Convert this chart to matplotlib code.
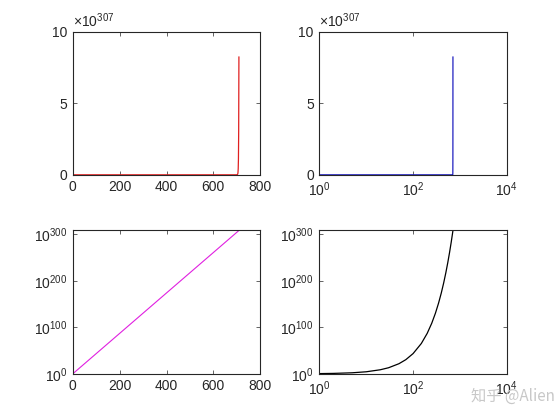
import matplotlib
matplotlib.use("Agg")
import matplotlib.pyplot as plt
from matplotlib.ticker import FuncFormatter, FixedLocator, NullLocator

plt.rcParams['font.family'] = ['Liberation Sans', 'DejaVu Sans']
plt.rcParams['mathtext.fontset'] = 'custom'
plt.rcParams['mathtext.rm'] = 'Liberation Sans'
plt.rcParams['mathtext.it'] = 'Liberation Sans'
plt.rcParams['font.size'] = 10

# sample points (y = e^x)
x = [0, 1, 2, 5, 10, 20, 30, 50, 70, 100, 150, 200, 250, 300, 350, 400, 450,
     500, 550, 600, 650, 690, 700, 702, 704, 705, 706, 707, 708, 709]
y = [1.0, 2.718, 7.389, 148.4, 2.203e4, 4.852e8, 1.069e13, 5.185e21, 2.515e30,
     2.688e43, 1.393e65, 7.226e86, 3.747e108, 1.942e130, 1.007e152, 5.221e173,
     2.707e195, 1.403e217, 7.275e238, 3.773e260, 1.956e282, 4.605e299,
     1.014e304, 7.494e304, 5.537e305, 1.505e306, 4.091e306, 1.112e307,
     3.023e307, 8.218e307]

lin_ticks = [0, 200, 400, 600, 800]
log_x_ticks = [1e0, 1e2, 1e4]
lin_y_ticks = [0, 5e307, 1e308]
log_y_ticks = [1e0, 1e100, 1e200, 1e300]
y_exp = 307

fig = plt.figure(figsize=(5.6, 4.2), dpi=100)
fig.patch.set_facecolor('white')

left = [0.13, 0.5703]
bottom = [0.5838, 0.11]
w, h = 0.3347, 0.3412

axes = []
for r in range(2):
    for c in range(2):
        ax = fig.add_axes([left[c], bottom[r], w, h])
        ax.tick_params(direction='in', length=3, width=0.5, top=True, right=True,
                       labelsize=10, colors='#262626', pad=4)
        for s in ax.spines.values():
            s.set_linewidth(0.8)
            s.set_color('#262626')
        axes.append(ax)

ax1, ax2, ax3, ax4 = axes

# top-left: linear
ax1.plot(x, y, color='#e02020', lw=0.9)
ax1.set_xlim(0, 800)
ax1.set_ylim(0, 1e308)

# top-right: semilogx
ax2.semilogx(x[1:], y[1:], color='#2020c0', lw=0.9)
ax2.set_xlim(1, 1e4)
ax2.set_ylim(0, 1e308)

# bottom-left: semilogy (tight to data)
ax3.semilogy(x, y, color='#e020e0', lw=0.8)
ax3.set_xlim(0, 800)
ax3.set_ylim(1, max(y))

# bottom-right: loglog
ax4.loglog(x[1:], y[1:], color='black', lw=0.9)
ax4.set_xlim(1, 1e4)
ax4.set_ylim(1, max(y))

for ax in (ax1, ax3):
    ax.xaxis.set_major_locator(FixedLocator(lin_ticks))
for ax in (ax2, ax4):
    ax.xaxis.set_major_locator(FixedLocator(log_x_ticks))
    ax.xaxis.set_minor_locator(NullLocator())
for ax in (ax1, ax2):
    ax.yaxis.set_major_locator(FixedLocator(lin_y_ticks))
    ax.yaxis.set_major_formatter(FuncFormatter(lambda v, p: '%g' % round(v / 10**y_exp)))
    ax.text(0.0, 1.01, r'$\times10^{%d}$' % y_exp, transform=ax.transAxes,
            ha='left', va='bottom', fontsize=10, color='#262626')
for ax in (ax3, ax4):
    ax.yaxis.set_major_locator(FixedLocator(log_y_ticks))
    ax.yaxis.set_minor_locator(NullLocator())

fig.text(0.99, 0.057, '知乎 @Alien', ha='right', va='center', fontsize=11,
         color='#c8c8c8', family=['Noto Sans CJK SC', 'DejaVu Sans'])

fig.savefig('out.png', dpi=100)
